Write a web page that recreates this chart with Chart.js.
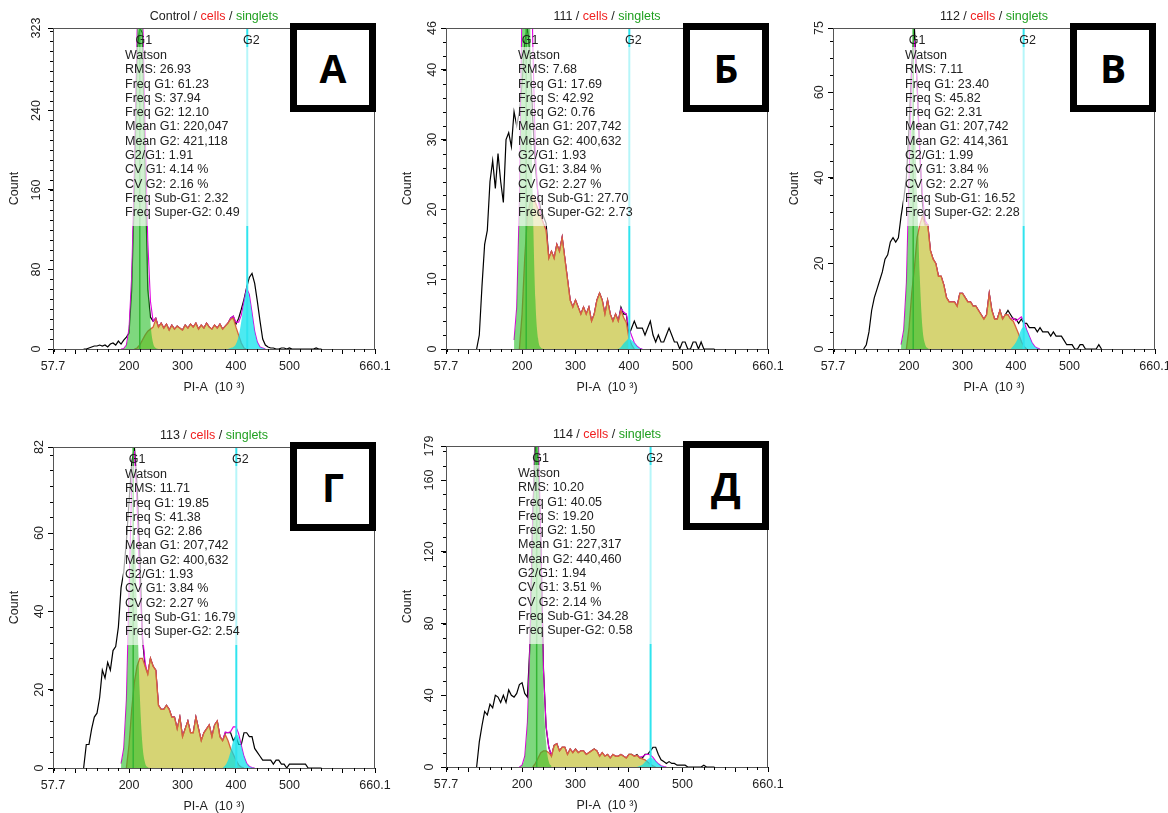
<!DOCTYPE html>
<html lang="ru">
  <head>
    <meta charset="UTF-8" />
    <title>PI-A histograms</title>
    <style>
      * {
        margin: 0;
        padding: 0;
        box-sizing: border-box;
      }
      body {
        width: 1168px;
        height: 813px;
        overflow: hidden;
        position: relative;
        background: #fff;
        font-family: "Liberation Sans", Arial, sans-serif;
        color: #222;
      }
      .panel {
        position: absolute;
        width: 391px;
        height: 400px;
      }
      .panel canvas {
        position: absolute;
        left: 0;
        top: 0;
        width: 391px;
        height: 400px;
      }
      .title {
        position: absolute;
        left: 53px;
        top: 9px;
        width: 322px;
        text-align: center;
        font-size: 12.5px;
        line-height: 15px;
        white-space: nowrap;
      }
      .title .cells {
        color: #f02020;
      }
      .title .singlets {
        color: #1f9f1f;
      }
      .stats {
        position: absolute;
        left: 123px;
        top: 47px;
        width: 140px;
        height: 179px;
        padding: 1px 0 0 2px;
        background: rgba(255, 255, 255, 0.65);
        font-size: 12.5px;
        line-height: 14.3px;
        white-space: nowrap;
      }
      .letter {
        position: absolute;
        left: 290px;
        top: 23px;
        width: 86px;
        height: 89px;
        border: 7px solid #000;
        background: #fff;
        display: flex;
        align-items: center;
        justify-content: center;
        font-family: "Open Sans", sans-serif;
        font-weight: 700;
        font-size: 39px;
        color: #000;
      }
    </style>
    <script src="https://cdn.jsdelivr.net/npm/chart.js"></script>
  </head>
  <body>
    <script>
      // sample names and panel letters
      const samples = ["Control", "111", "112", "113", "114"];
      const letters = ["А", "Б", "В", "Г", "Д"];

      // axes
      const xTicks = [57.7, 100, 200, 300, 400, 500, 600, 660.1];
      const xTickLabels = ["57.7", "", "200", "300", "400", "500", "", "660.1"];
      const yMax = [323, 46, 75, 82, 179];
      const yTicks = [
        [0, 80, 160, 240, 323],
        [0, 10, 20, 30, 40, 46],
        [0, 20, 40, 60, 75],
        [0, 20, 40, 60, 82],
        [0, 40, 80, 120, 160, 179],
      ];
      const yMinorStep = [10, 2, 4, 4, 8];

      // Watson model results
      const rms = [26.93, 7.68, 7.11, 11.71, 10.2];
      const freqG1 = [61.23, 17.69, 23.4, 19.85, 40.05];
      const freqS = [37.94, 42.92, 45.82, 41.38, 19.2];
      const freqG2 = [12.1, 0.76, 2.31, 2.86, 1.5];
      const meanG1 = [220047, 207742, 207742, 207742, 227317];
      const meanG2 = [421118, 400632, 414361, 400632, 440460];
      const ratioG2G1 = [1.91, 1.93, 1.99, 1.93, 1.94];
      const cvG1 = [4.14, 3.84, 3.84, 3.84, 3.51];
      const cvG2 = [2.16, 2.27, 2.27, 2.27, 2.14];
      const freqSubG1 = [2.32, 27.7, 16.52, 16.79, 34.28];
      const freqSuperG2 = [0.49, 2.73, 2.28, 2.54, 0.58];

      // histogram channels (PI-A, 10^3)
      const bins = [115,120,125,130,135,140,145,150,155,160,165,170,175,180,185,190,195,200,205,210,215,220,225,230,235,240,245,250,255,260,265,270,275,280,285,290,295,300,305,310,315,320,325,330,335,340,345,350,355,360,365,370,375,380,385,390,395,400,405,410,415,420,425,430,435,440,445,450,455,460,465,470,475,480,485,490,495,500,505,510,515,520,525,530,535,540,545,550,555,560];
      const g1Bins = [185,190,195,200,205,210,215,220,225,230,235,240,245,250,255];
      const sBins = [195,200,205,210,215,220,225,230,235,240,245,250,255,260,265,270,275,280,285,290,295,300,305,310,315,320,325,330,335,340,345,350,355,360,365,370,375,380,385,390,395,400,405,410,415,420,425,430,435,440,445,450];
      const g2Bins = [375,380,385,390,395,400,405,410,415,420,425,430,435,440,445,450,455,460,465,470];
      const fitBins = [185,190,195,200,205,210,215,220,225,230,235,240,245,250,255,260,265,270,275,280,285,290,295,300,305,310,315,320,325,330,335,340,345,350,355,360,365,370,375,380,385,390,395,400,405,410,415,420,425,430,435,440,445,450,455,460,465,470];

      // raw counts
      const countControl = [0,0,1,2,3,3,4,3,4,2,5,6,4,8,5,9,12,16,60,160,300,323,318,180,60,32,28,31,22,26,21,25,19,24,20,23,21,19,24,21,25,22,26,20,24,21,26,22,20,24,21,25,20,23,26,31,33,25,31,40,50,62,72,76,66,48,28,10,4,2,1,1,0,0,1,1,0,1,0,0,0,0,0,0,0,0,0,1,0,0];
      const count111 = [0,2,9,15,17,24,27,23,28,24,21,30,31,29,34,32,34,38,44,46,42,33,26,22,20,19,18,13,14,13,15,14,16,13,10,7,6,7,6,5,6,5,6,4,5,7,8,7,5,7,5,4,5,4,6,5,5,2,3,4,3,3,3,2,3,4,2,1,2,1,1,2,3,2,1,1,0,1,1,0,0,1,1,0,1,0,0,0,0,0];
      const count112 = [0,1,4,9,12,14,16,18,21,22,25,26,25,26,31,35,40,52,66,75,62,46,34,29,29,23,21,20,17,17,15,12,11,11,11,10,13,13,12,11,11,10,10,9,8,7,8,13,9,7,7,9,7,8,9,8,7,7,6,7,6,6,5,5,5,4,5,4,4,4,3,4,3,3,3,2,1,1,1,0,0,1,1,0,0,0,0,0,1,0];
      const count113 = [0,6,6,10,13,14,18,25,23,27,25,30,31,36,46,50,58,68,78,82,72,55,33,26,24,28,26,25,16,15,15,16,15,13,13,10,13,8,10,12,9,9,13,10,7,9,10,11,8,11,12,8,7,9,9,9,7,8,6,6,9,9,8,8,5,4,3,2,2,2,2,1,2,2,1,1,0,1,1,1,1,1,1,1,0,0,0,0,0,0];
      const count114 = [0,14,23,31,29,35,33,40,39,36,40,36,43,40,39,41,46,47,41,39,70,140,179,172,128,55,22,11,6,12,13,9,11,11,7,10,8,10,8,9,9,7,8,9,10,9,6,8,6,7,5,7,6,6,7,6,5,7,7,6,7,5,5,7,7,9,11,11,7,4,3,2,3,2,2,1,1,1,1,0,0,0,0,0,0,1,0,0,0,0];

      // G1 component
      const g1Control = [0,0.5,4,21,74,182,317,390,340,209,91,28,6,1,0];
      const g1111 = [1.3,6,21,45,68,69,48,22,7,1.5,0.2,0,null,null,null];
      const g1112 = [1,4.5,15.5,35,52,53,36,17,5,1.1,0.2,0,null,null,null];
      const g1113 = [1.1,5,17.5,39,58,59,41,19,6,1.3,0.2,0,null,null,null];
      const g1114 = [null,null,0,1,6,25,70,139,193,185,120,45,14,3,0.5];

      // S component
      const sControl = [null,null,null,0,1,4,9,14,18,20,22,30,22,26,21,25,19,24,20,23,21,19,24,21,25,22,26,20,24,21,26,22,20,24,21,25,20,23,26,30,31,22,14,6,1,0,null,null,null,null,null,null];
      const s111 = [0,5,13,19,21,22,21,20,19,18,17,13,14,13,15,14,16,13,10,7,6,7,6,5,6,5,6,4,5,7,8,7,5,7,5,4,5,4,5.5,4.5,3.8,1.5,0.6,0,null,null,null,null,null,null,null,null];
      const s112 = [0,5,13,19,26,29,31,29,29,23,21,20,17,17,15,12,11,11,11,10,13,13,12,11,11,10,10,9,8,7,8,13,9,7,7,9,7,8,8,7,6.5,5,3.5,1.8,0.6,0,null,null,null,null,null,null];
      const s113 = [0,6,15,22,26,28,28,26,24,28,26,25,16,15,15,16,15,13,13,10,13,8,10,12,9,9,13,10,7,9,10,11,8,11,12,8,7,8.5,7,5,3.5,2,0.8,0.2,0,null,null,null,null,null,null,null];
      const s114 = [null,null,null,null,null,0,2,5,8,9,9,8,6,12,13,9,11,11,7,10,8,10,8,9,9,7,8,9,10,9,6,8,6,7,5,7,6,6,7,6,5,7,7,6,6.5,5,4.5,4,2.8,1.5,0.6,0];

      // G2 component
      const g2Control = [null,null,0,1,2,5,13,28,47,59,53,36,18,7,2,1,0,null,null,null];
      const g2111 = [null,0,0.3,0.8,1.2,1.5,1.3,0.9,0.4,0.1,0,null,null,null,null,null,null,null,null,null];
      const g2112 = [null,null,null,0,0.7,1.6,3,4.6,5.2,4.5,3,1.5,0.6,0.2,0,null,null,null,null,null];
      const g2113 = [0,0.7,2,4.3,7,8.5,8,5.6,3,1.2,0.4,0.1,0,null,null,null,null,null,null,null];
      const g2114 = [null,null,null,null,null,null,null,null,0,0.5,1.3,2.8,4.3,5.2,4.8,3.3,1.8,0.7,0.2,0];

      // total model fit
      const fitControl = [0,0.5,4,21,74,182,318,394,349,223,109,48,28,31,22,26,21,25,19,24,20,23,21,19,24,21,25,22,26,20,24,21,26,22,20,24,21,25,20,23,26,31,33,27,27,34,48,61,55,37,18,7,2,1,0,null,null,null];
      const fit111 = [1.3,6,21,50,81,88,69,44,28,21.5,19.2,18,17,13,14,13,15,14,16,13,10,7,6,7,6,5,6,5,6,4,5,7,8,7,5,7,5,4,5,4,5.8,5.3,5,3,1.9,0.9,0.4,0.1,0,null,null,null,null,null,null,null,null,null];
      const fit112 = [1,4.5,15.5,40,65,72,62,46,36,30,29,23,21,20,17,17,15,12,11,11,11,10,13,13,12,11,11,10,10,9,8,7,8,13,9,7,7,9,7,8,8,7,7.2,6.6,7,7.5,6.5,4.5,3,1.5,0.6,0.2,0,null,null,null,null,null];
      const fit113 = [1.1,5,17.5,45,73,81,67,47,34,27,24,28,26,25,16,15,15,16,15,13,13,10,13,8,10,12,9,9,13,10,7,9,10,11,8,11,12,8,7,9.2,9,9.3,10.5,10.5,8.8,5.8,3,1.2,0.4,0.1,0,null,null,null,null,null,null,null];
      const fit114 = [null,null,0,1,6,25,70,139,195,190,128,54,23,11,6.5,12,13,9,11,11,7,10,8,10,8,9,9,7,8,9,10,9,6,8,6,7,5,7,6,6,7,6,5,7,7,6,6.5,5.5,5.8,6.8,7.1,6.7,5.4,3.3,1.8,0.7,0.2,0];

      const counts = [countControl, count111, count112, count113, count114];
      const g1 = [g1Control, g1111, g1112, g1113, g1114];
      const sPhase = [sControl, s111, s112, s113, s114];
      const g2 = [g2Control, g2111, g2112, g2113, g2114];
      const fit = [fitControl, fit111, fit112, fit113, fit114];

      const panelOrigin = [[0, 0], [393, 0], [780, 0], [0, 419], [393, 418]];
      const fontFamily = '"Liberation Sans", Arial, sans-serif';

      Chart.defaults.font.family = fontFamily;
      Chart.defaults.font.size = 12.5;
      Chart.defaults.color = "#222";

      function series(xs, ys) {
        const pts = [];
        xs.forEach((x, i) => {
          if (ys[i] !== null) pts.push({ x: x, y: ys[i] });
        });
        return pts;
      }

      function statLines(p) {
        return [
          "Watson",
          `RMS: ${rms[p].toFixed(2)}`,
          `Freq G1: ${freqG1[p].toFixed(2)}`,
          `Freq S: ${freqS[p].toFixed(2)}`,
          `Freq G2: ${freqG2[p].toFixed(2)}`,
          `Mean G1: ${meanG1[p].toLocaleString("en-US")}`,
          `Mean G2: ${meanG2[p].toLocaleString("en-US")}`,
          `G2/G1: ${ratioG2G1[p].toFixed(2)}`,
          `CV G1: ${cvG1[p].toFixed(2)} %`,
          `CV G2: ${cvG2[p].toFixed(2)} %`,
          `Freq Sub-G1: ${freqSubG1[p].toFixed(2)}`,
          `Freq Super-G2: ${freqSuperG2[p].toFixed(2)}`,
        ];
      }

      // gate lines, labels, frame and minor ticks
      function decorPlugin(p) {
        return {
          id: "decor" + p,
          afterDatasetsDraw(chart) {
            const { ctx, chartArea: a, scales } = chart;
            const gates = [
              [meanG1[p] / 1000, "#35b535", 1.5, "G1"],
              [meanG2[p] / 1000, "#30e4ee", 2, "G2"],
            ];
            ctx.save();
            gates.forEach(([v, color, w, name]) => {
              const px = scales.x.getPixelForValue(v);
              ctx.strokeStyle = color;
              ctx.lineWidth = w;
              ctx.beginPath();
              ctx.moveTo(px, a.top);
              ctx.lineTo(px, a.bottom);
              ctx.stroke();
              ctx.fillStyle = "#222";
              ctx.font = "12.5px " + fontFamily;
              ctx.textAlign = "center";
              ctx.textBaseline = "middle";
              ctx.fillText(name, px + 4, a.top + 12.5);
            });
            ctx.restore();
          },
          afterDraw(chart) {
            const { ctx, chartArea: a, scales } = chart;
            ctx.save();
            ctx.strokeStyle = "#555";
            ctx.lineWidth = 1;
            ctx.strokeRect(a.left + 0.5, a.top + 0.5, a.right - a.left - 1, a.bottom - a.top);
            ctx.strokeStyle = "#000";
            ctx.beginPath();
            for (let v = 60; v <= 660; v += 20) {
              if (v % 100 === 0) continue;
              const px = Math.round(scales.x.getPixelForValue(v)) + 0.5;
              ctx.moveTo(px, a.bottom);
              ctx.lineTo(px, a.bottom + 3);
            }
            for (let v = 0; v <= yMax[p]; v += yMinorStep[p]) {
              const py = Math.round(scales.y.getPixelForValue(v)) + 0.5;
              ctx.moveTo(a.left - 3, py);
              ctx.lineTo(a.left, py);
            }
            ctx.stroke();
            ctx.restore();
          },
        };
      }

      function drawPanel(canvas, p) {
        new Chart(canvas, {
          type: "line",
          data: {
            datasets: [
              {
                label: "G2",
                data: series(g2Bins, g2[p]),
                fill: "origin",
                backgroundColor: "rgba(0, 225, 235, 0.7)",
                borderColor: "transparent",
                borderWidth: 0,
                pointRadius: 0,
                cubicInterpolationMode: "monotone",
              },
              {
                label: "G1",
                data: series(g1Bins, g1[p]),
                fill: "origin",
                backgroundColor: "rgba(40, 190, 40, 0.6)",
                borderColor: "transparent",
                borderWidth: 0,
                pointRadius: 0,
                cubicInterpolationMode: "monotone",
              },
              {
                label: "S",
                data: series(sBins, sPhase[p]),
                fill: "origin",
                backgroundColor: "rgba(200, 198, 70, 0.75)",
                borderColor: "#d8603e",
                borderWidth: 1.3,
                pointRadius: 0,
              },
              {
                label: "Fit",
                data: series(fitBins, fit[p]),
                fill: false,
                borderColor: "#e000e0",
                borderWidth: 1.1,
                pointRadius: 0,
              },
              {
                label: "Count",
                data: series(bins, counts[p]),
                fill: false,
                borderColor: "#000",
                borderWidth: 1.2,
                pointRadius: 0,
              },
            ],
          },
          options: {
            responsive: false,
            animation: false,
            events: [],
            layout: { padding: { top: 28, right: 16, left: 0, bottom: 0 } },
            plugins: { legend: { display: false }, tooltip: { enabled: false } },
            scales: {
              x: {
                type: "linear",
                min: 57.7,
                max: 660.1,
                afterBuildTicks: (s) => {
                  s.ticks = xTicks.map((v) => ({ value: v }));
                },
                afterFit: (s) => {
                  s.height = 51;
                  s.paddingLeft = 0;
                  s.paddingRight = 0;
                },
                ticks: {
                  autoSkip: false,
                  maxRotation: 0,
                  padding: 5,
                  color: "#222",
                  callback: (v, i) => xTickLabels[i],
                },
                grid: { drawOnChartArea: false, tickLength: 5, color: "#000" },
                border: { color: "#000" },
                title: {
                  display: true,
                  text: "PI-A  (10 ³)",
                  color: "#222",
                  padding: { top: 4, bottom: 4.5 },
                },
              },
              y: {
                min: 0,
                max: yMax[p],
                afterBuildTicks: (s) => {
                  s.ticks = yTicks[p].map((v) => ({ value: v }));
                },
                afterFit: (s) => {
                  s.width = 53;
                  s.paddingTop = 0;
                  s.paddingBottom = 0;
                },
                ticks: {
                  autoSkip: false,
                  minRotation: 90,
                  maxRotation: 90,
                  crossAlign: "center",
                  padding: 1.5,
                  color: "#222",
                  callback: (v) => v,
                },
                grid: { drawOnChartArea: false, tickLength: 5, color: "#000" },
                border: { color: "#000" },
                title: {
                  display: true,
                  text: "Count",
                  color: "#222",
                  padding: { top: 7.5, bottom: 0 },
                },
              },
            },
          },
          plugins: [decorPlugin(p)],
        });
      }

      samples.forEach((name, p) => {
        const panel = document.createElement("div");
        panel.className = "panel";
        panel.style.left = panelOrigin[p][0] + "px";
        panel.style.top = panelOrigin[p][1] + "px";
        panel.innerHTML = `
          <canvas width="391" height="400"></canvas>
          <div class="title">${name} / <span class="cells">cells</span> / <span class="singlets">singlets</span></div>
          <div class="stats">${statLines(p).join("<br>")}</div>
          <div class="letter">${letters[p]}</div>`;
        document.body.appendChild(panel);
        drawPanel(panel.querySelector("canvas"), p);
      });
    </script>
  </body>
</html>
